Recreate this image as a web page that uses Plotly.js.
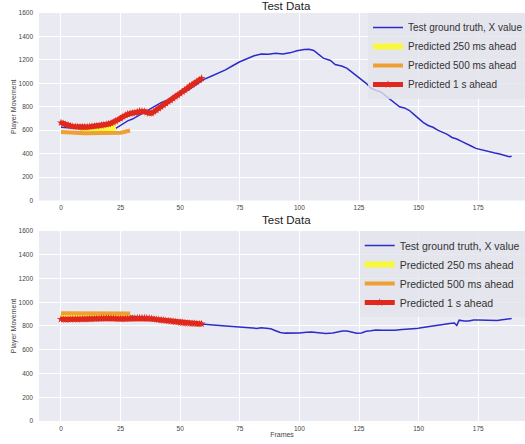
<!DOCTYPE html>
<html>
<head>
<meta charset="utf-8">
<script src="https://cdn.plot.ly/plotly-3.0.1.min.js"></script>
<style>html,body{margin:0;padding:0;background:#fff;}#chart{width:525px;height:444px;}</style>
</head>
<body>
<div id="chart"></div>
<script>
// ---------- Top chart data ----------
const topTruthX = [0,3,6,9,12,15,18,21,23,25,28,30,33,36,39,42,45,48,50,52,54,57,60,63,66,69,72,75,78,81,84,87,90,93,96,99,102,104,106,108,110,113,115,118,120,122,124,126,128,130,132,134,136,138,140,142,144,146,148,150,152,154,156,158,160,162,164,166,168,170,172,174,176,178,180,182,184,186,188,189];
const topTruthY = [625,620,615,612,610,608,606,610,616,640,680,695,730,765,800,835,860,905,920,925,950,995,1034,1060,1087,1115,1150,1184,1210,1235,1250,1248,1256,1250,1260,1278,1288,1290,1280,1250,1215,1195,1160,1145,1128,1095,1065,1035,1000,960,940,928,895,860,832,800,790,770,735,700,665,640,625,600,585,565,538,525,505,482,465,445,435,420,410,405,397,385,374,378];

const top250X = [8,9,10,11,12,13,14,15,16,17,18,19,20,21,22,23];
const top250Y = [603,602,601,601,600,600,601,602,603,605,607,610,613,617,621,625];

const top500X = [0,1,2,3,4,5,6,7,8,9,10,11,12,13,14,15,16,17,18,19,20,21,22,23,24,25,26,27,28,29];
const top500Y = [585,583,581,579,578,577,576,575,574,574,573,573,573,573,573,573,573,573,573,573,574,574,575,576,577,579,582,586,591,597];

const top1sX = [0,1,2,3,4,5,6,7,8,9,10,11,12,13,14,15,16,17,18,19,20,21,22,23,24,25,26,27,28,29,30,31,32,33,34,35,36,37,38,39,40,41,42,43,44,45,46,47,48,49,50,51,52,53,54,55,56,57,58,59];
const top1sY = [664,655,648,642,637,632,630,628,627,627,627,628,630,632,634,636,639,642,645,649,653,660,668,678,690,701,715,728,738,742,746,749,756,764,763,760,752,744,746,758,772,786,800,815,829,843,857,872,886,900,914,928,944,960,977,990,1002,1014,1028,1043];

// ---------- Bottom chart data ----------
const botTruthX = [0,5,10,15,20,25,28,30,33,36,40,45,50,55,58,60,63,66,69,72,75,78,80,82,84,86,88,90,92,94,97,100,103,105,108,111,114,116,118,120,122,124,126,128,130,132,135,138,140,143,146,149,151,153,155,157,159,161,163,165,166,167,169,171,173,175,177,179,181,183,185,187,189];
const botTruthY = [890,892,890,895,893,890,885,880,875,872,862,850,835,822,816,815,808,803,800,796,790,782,778,780,786,782,776,760,745,740,738,742,748,750,744,736,741,752,758,757,750,739,742,755,760,766,765,762,765,770,772,778,785,792,800,804,808,815,822,826,805,849,842,842,850,851,850,845,843,846,852,860,863];

const bot250X = [0,1,2,3,4,5,6,7,8,9,10,11,12,13,14,15,16,17,18,19,20,21,22,23,24,25,26,27,28,29];
const bot250Y = [893,893,893,894,894,894,893,893,893,894,894,894,895,895,895,895,894,894,894,894,893,893,893,893,894,894,894,894,893,893];

const bot500X = [0,1,2,3,4,5,6,7,8,9,10,11,12,13,14,15,16,17,18,19,20,21,22,23,24,25,26,27,28,29];
const bot500Y = [908,908,907,907,907,907,906,906,906,906,906,906,906,906,906,906,906,906,906,906,906,906,906,906,906,906,906,906,906,906];

const bot1sX = top1sX;
const bot1sY = [857,855,854,855,856,857,857,856,857,858,857,858,859,860,861,862,863,864,865,866,866,865,864,862,861,860,860,861,862,863,864,866,867,868,868,868,867,865,862,858,855,853,850,848,845,843,840,838,835,832,829,827,825,823,822,821,820,819,818,818];

const seriesNames = ["Test ground truth, X value","Predicted 250 ms ahead","Predicted 500 ms ahead","Predicted 1 s ahead"];
const xTicks = [0,25,50,75,100,125,150,175];
const yTicks = [0,200,400,600,800,1000,1200,1400,1600];

const C_BLUE = '#2c2cc8', C_YEL = '#f8f83c', C_ORA = '#eea035', C_RED = '#e0281c';

function mk(x, y, name, color, width, xa, ya, leg, marker) {
  const t = {x: x, y: y, name: name, type: 'scatter', mode: marker ? 'lines+markers' : 'lines',
    line: {color: color, width: width}, xaxis: xa, yaxis: ya, legend: leg};
  if (marker) t.marker = {symbol: 'star', size: 6, color: color};
  return t;
}

const data = [
  mk(topTruthX, topTruthY, seriesNames[0], C_BLUE, 1.5, 'x', 'y', 'legend'),
  mk(top250X, top250Y, seriesNames[1], C_YEL, 6, 'x', 'y', 'legend'),
  mk(top500X, top500Y, seriesNames[2], C_ORA, 4, 'x', 'y', 'legend'),
  mk(top1sX, top1sY, seriesNames[3], C_RED, 5, 'x', 'y', 'legend', true),
  mk(botTruthX, botTruthY, seriesNames[0], C_BLUE, 1.5, 'x2', 'y2', 'legend2'),
  mk(bot250X, bot250Y, seriesNames[1], C_YEL, 6, 'x2', 'y2', 'legend2'),
  mk(bot500X, bot500Y, seriesNames[2], C_ORA, 4, 'x2', 'y2', 'legend2'),
  mk(bot1sX, bot1sY, seriesNames[3], C_RED, 5, 'x2', 'y2', 'legend2', true)
];

const FONT = 'Liberation Sans, Arial, sans-serif';
const tickFont = {family: FONT, size: 6.5, color: '#444'};

function xax(anchor, title) {
  const a = {anchor: anchor, domain: [0, 1], range: [-9.2, 194.6], tickvals: xTicks,
    showgrid: true, gridcolor: '#ffffff', gridwidth: 1, zeroline: false, showline: false,
    ticks: '', tickfont: tickFont, ticklabelstandoff: 2, automargin: false};
  if (title) a.title = {text: title, font: {family: FONT, size: 7, color: '#444'}, standoff: 1};
  return a;
}
function yax(anchor, domain) {
  return {anchor: anchor, domain: domain, range: [0, 1600], tickvals: yTicks,
    showgrid: true, gridcolor: '#ffffff', gridwidth: 1, zeroline: false, showline: false,
    ticks: '', tickfont: tickFont, ticklabelstandoff: 5, automargin: false,
    title: {text: 'Player Movement', font: {family: FONT, size: 7, color: '#444'}, standoff: 1}};
}

const layout = {
  width: 525, height: 444,
  margin: {l: 39, r: 0, t: 13, b: 23, pad: 0, autoexpand: false},
  paper_bgcolor: '#ffffff', plot_bgcolor: '#eaeaf2',
  font: {family: FONT},
  title: {text: 'Test Data', font: {family: FONT, size: 11.5, color: '#222'},
    x: 286/525, xref: 'container', xanchor: 'center', y: 1 - 6/444, yref: 'container', yanchor: 'middle'},
  xaxis: xax('y'),
  yaxis: yax('x', [0.5404, 1]),
  xaxis2: xax('y2', 'Frames'),
  yaxis2: yax('x2', [0, 0.4657]),
  legend: {x: 0.677, y: 1, xanchor: 'left', yanchor: 'top', bgcolor: 'rgba(228,228,236,0.8)',
    font: {family: FONT, size: 10, color: '#333'}, borderwidth: 0, itemwidth: 30, tracegroupgap: 0},
  legend2: {x: 0.660, y: 0.4657, xanchor: 'left', yanchor: 'top', bgcolor: 'rgba(228,228,236,0.8)',
    font: {family: FONT, size: 10.5, color: '#333'}, borderwidth: 0, itemwidth: 30, tracegroupgap: 0},
  annotations: [{text: 'Test Data', xref: 'paper', yref: 'paper', x: (286-39)/486, y: 1 - (220-13)/408,
    xanchor: 'center', yanchor: 'middle', showarrow: false, font: {family: FONT, size: 11.5, color: '#222'}}],
  showlegend: true
};

Plotly.newPlot('chart', data, layout, {displayModeBar: false, staticPlot: true});
</script>
</body>
</html>
